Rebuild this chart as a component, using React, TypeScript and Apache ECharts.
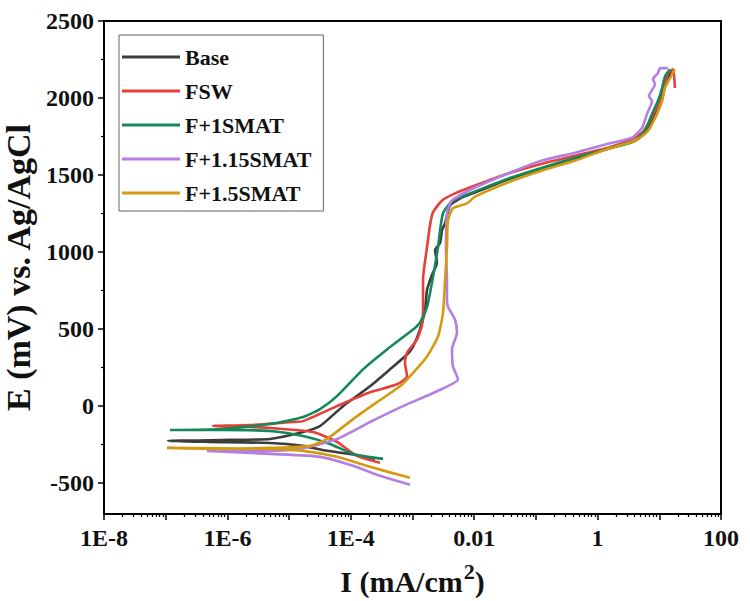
import React, { useEffect, useRef } from "react";
import * as echarts from "echarts";

// ---- data: [I (mA/cm2), E (mV)] ----
const seriesNames = ["Base", "FSW", "F+1SMAT", "F+1.15SMAT", "F+1.5SMAT"];
const seriesColors = ["#3c3c3c", "#e5403a", "#13885a", "#b47fe0", "#d39a14"];

const base: [number, number][] = [
  [2.47e-4, -342], [9.7e-5, -310], [4.11e-5, -290], [1.68e-5, -258], [4.9e-6, -239],
  [5.2e-7, -232], [1.09e-7, -226], [1.1e-6, -219], [4.9e-6, -213], [1.68e-5, -168],
  [3.17e-5, -129], [7.48e-5, 0], [2.05e-4, 129], [4.32e-4, 239], [8.15e-4, 335],
  [1.02e-3, 387], [1.32e-3, 497], [1.6e-3, 626], [1.72e-3, 755], [2.07e-3, 852],
  [2.49e-3, 929], [2.32e-3, 1013], [2.79e-3, 1058], [3.01e-3, 1142], [3.37e-3, 1187],
  [4.06e-3, 1303], [5.9e-3, 1348], [0.0103, 1387], [0.0353, 1471], [0.126, 1542],
  [0.431, 1606], [1.48, 1671], [4.04, 1723], [6.32, 1787], [8.51, 1897],
  [10.3, 1981], [12.4, 2077], [14.9, 2161], [16.0, 2180],
];

const fsw: [number, number][] = [
  [2.97e-4, -368], [1.26e-4, -323], [5.97e-5, -232], [2.44e-5, -168], [7.96e-6, -148],
  [2.32e-6, -135], [5.85e-7, -129], [2.32e-6, -123], [1.16e-5, -103], [1.68e-5, -97],
  [5.97e-5, 0], [2.05e-4, 90], [5.61e-4, 142], [8.15e-4, 194], [7.55e-4, 284],
  [8.15e-4, 348], [1.18e-3, 432], [1.43e-3, 529], [1.48e-3, 645], [1.48e-3, 819],
  [1.72e-3, 1032], [1.92e-3, 1174], [2.15e-3, 1258], [3.01e-3, 1335], [4.89e-3, 1381],
  [0.0103, 1432], [0.0353, 1510], [0.126, 1574], [0.431, 1626], [1.48, 1677],
  [3.11, 1723], [5.25, 1774], [6.56, 1832], [8.51, 1916], [11.1, 2000],
  [12.4, 2090], [13.8, 2161], [16.7, 2187], [17.9, 2065],
];

const f1smat: [number, number][] = [
  [3.33e-4, -342], [1.09e-4, -310], [4.6e-5, -245], [1.68e-5, -194], [4.9e-6, -161],
  [7.6e-7, -155], [1.17e-7, -155], [7.6e-7, -148], [4.9e-6, -116], [1.68e-5, -71],
  [3.17e-5, -19], [5.97e-5, 65], [1.58e-4, 239], [3.86e-4, 368], [1.02e-3, 497],
  [1.32e-3, 542], [1.72e-3, 645], [2.15e-3, 839], [2.59e-3, 1032], [3.12e-3, 1252],
  [4.53e-3, 1335], [8.55e-3, 1381], [0.0353, 1477], [0.126, 1548], [0.431, 1613],
  [1.48, 1671], [4.04, 1723], [5.86, 1787], [7.62, 1897], [9.5, 1981],
  [11.1, 2065], [12.4, 2142], [14.9, 2187],
];

const f115smat: [number, number][] = [
  [9.1e-4, -510], [2.97e-4, -452], [1.09e-4, -387], [3.17e-5, -329], [4.9e-6, -310],
  [4.67e-7, -290], [4.9e-6, -290], [1.5e-5, -277], [5.97e-5, -213], [2.05e-4, -103],
  [7.02e-4, 0], [2.49e-3, 97], [5.46e-3, 174], [4.53e-3, 258], [4.37e-3, 368],
  [5.26e-3, 477], [4.89e-3, 561], [3.76e-3, 645], [3.62e-3, 690], [3.62e-3, 819],
  [3.49e-3, 1013], [3.62e-3, 1252], [4.37e-3, 1335], [0.0103, 1419], [0.0353, 1510],
  [0.126, 1594], [0.431, 1645], [1.48, 1703], [3.61, 1742], [5.25, 1806],
  [6.32, 1897], [7.62, 1981], [6.8, 2013], [8.51, 2090], [7.9, 2123],
  [9.5, 2161], [10.3, 2194], [13.8, 2194],
];

const f15smat: [number, number][] = [
  [9.1e-4, -465], [2.05e-4, -394], [5.97e-5, -329], [1.68e-5, -290], [4.9e-6, -277],
  [1.05e-7, -271], [7.6e-7, -277], [4.9e-6, -271], [2.18e-5, -258], [4.11e-5, -213],
  [1.09e-4, -84], [2.66e-4, 26], [6.27e-4, 129], [9.1e-4, 194], [1.72e-3, 323],
  [2.59e-3, 452], [3.12e-3, 606], [3.37e-3, 819], [3.62e-3, 1032], [3.76e-3, 1206],
  [4.53e-3, 1284], [7.64e-3, 1316], [0.0103, 1360], [0.0353, 1452], [0.126, 1529],
  [0.431, 1594], [1.48, 1671], [4.04, 1723], [6.56, 1787], [9.2, 1897],
  [11.1, 1981], [12.4, 2065], [14.9, 2129], [17.9, 2187],
];

const seriesData = [base, fsw, f1smat, f115smat, f15smat];

// ---- axes ----
const xMin = 1e-8;
const xMax = 100;
const xTickValues = [1e-8, 1e-6, 1e-4, 0.01, 1, 100];
const xTickLabels = ["1E-8", "1E-6", "1E-4", "0.01", "1", "100"];
const xMinorMultipliers = [2, 3, 4, 5, 6, 7, 8, 9];
const yMin = -700;
const yMax = 2500;
const yTickValues = [-500, 0, 500, 1000, 1500, 2000, 2500];
const yMinorTicks = [-250, 250, 750, 1250, 1750, 2250];

const FONT = "'Liberation Serif', 'Times New Roman', serif";

export default function App() {
  const ref = useRef<HTMLDivElement>(null);

  useEffect(() => {
    document.body.style.margin = "0";
    const chart = echarts.init(ref.current!, null, { renderer: "svg" });

    const expMin = Math.log10(xMin);
    const expMax = Math.log10(xMax);
    const tickExps = xTickValues.map((v) => Math.round(Math.log10(v)));
    const minorExps: number[] = [];
    for (let e = Math.round(expMin); e < Math.round(expMax); e++) {
      xMinorMultipliers.forEach((m) => minorExps.push(e + Math.log10(m)));
    }

    const black = "#000";
    const labelStyle = {
      fontFamily: FONT,
      fontWeight: "bold" as const,
      fontSize: 24,
      color: "#111",
    };

    chart.setOption({
      animation: false,
      backgroundColor: "#fff",
      grid: {
        left: 104,
        right: 29,
        top: 21,
        bottom: 87,
        containLabel: false,
        outerBoundsMode: "none",
        show: true,
        borderColor: black,
        borderWidth: 2,
      },
      legend: {
        data: seriesNames,
        orient: "vertical",
        left: 119,
        top: 35,
        icon: "rect",
        itemWidth: 58,
        itemHeight: 3,
        itemGap: 12,
        padding: [11, 12, 7, 3],
        borderColor: "#666",
        borderWidth: 1,
        textStyle: {
          fontFamily: FONT,
          fontWeight: "bold",
          fontSize: 22,
          color: "#111",
        },
      },
      xAxis: [
        { type: "log", logBase: 10, min: xMin, max: xMax, show: false },
        {
          type: "value",
          min: expMin,
          max: expMax,
          interval: 1,
          position: "bottom",
          axisLine: { show: true, onZero: false, lineStyle: { color: black, width: 2 } },
          axisTick: { show: true, length: 6, lineStyle: { color: black, width: 1.5 } },
          axisLabel: {
            ...labelStyle,
            margin: 12,
            formatter: (v: number) => {
              const r = Math.round(v);
              if (Math.abs(v - r) > 1e-6) return "";
              const i = tickExps.indexOf(r);
              return i >= 0 ? xTickLabels[i] : "";
            },
          },
          splitLine: { show: false },
          name: "{a|I (mA/cm}{b|2}{a|)}",
          nameLocation: "middle",
          nameGap: 46,
          nameTextStyle: {
            rich: {
              a: { fontFamily: FONT, fontWeight: "bold", fontSize: 30, color: "#111", lineHeight: 36, verticalAlign: "bottom" },
              b: { fontFamily: FONT, fontWeight: "bold", fontSize: 22, color: "#111", verticalAlign: "top", padding: [0, 0, 0, 1] },
            },
          },
        },
        {
          type: "value",
          min: expMin,
          max: expMax,
          position: "bottom",
          axisLine: { show: false, onZero: false },
          axisTick: { show: true, length: 3, customValues: minorExps, lineStyle: { color: black, width: 1.2 } },
          axisLabel: { show: false },
          splitLine: { show: false },
        },
      ],
      yAxis: [
        {
          type: "value",
          min: yMin,
          max: yMax,
          position: "left",
          axisLine: { show: true, onZero: false, lineStyle: { color: black, width: 2 } },
          axisTick: { show: true, length: 6, customValues: yTickValues, lineStyle: { color: black, width: 1.5 } },
          axisLabel: {
            ...labelStyle,
            margin: 10,
            customValues: yTickValues,
            formatter: (v: number) => String(v),
          },
          splitLine: { show: false },
          name: "E (mV) vs. Ag/AgCl",
          nameLocation: "middle",
          nameGap: 62,
          nameTextStyle: { fontFamily: FONT, fontWeight: "bold", fontSize: 34, color: "#111" },
        },
        {
          type: "value",
          min: yMin,
          max: yMax,
          position: "left",
          axisLine: { show: false, onZero: false },
          axisTick: { show: true, length: 3, customValues: yMinorTicks, lineStyle: { color: black, width: 1.2 } },
          axisLabel: { show: false },
          splitLine: { show: false },
        },
      ],
      series: seriesNames.map((name, i) => ({
        name,
        type: "line",
        xAxisIndex: 0,
        yAxisIndex: 0,
        data: seriesData[i],
        color: seriesColors[i],
        showSymbol: false,
        symbol: "none",
        smooth: 0.2,
        lineStyle: { width: 2.6, color: seriesColors[i] },
      })),
    });

    return () => chart.dispose();
  }, []);

  return <div ref={ref} style={{ width: 750, height: 601 }} />;
}
